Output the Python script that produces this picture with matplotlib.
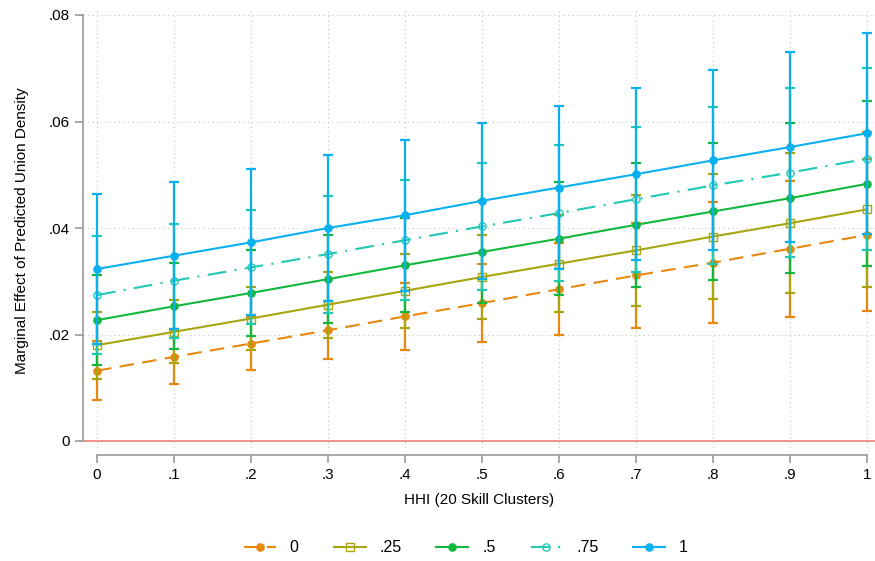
import numpy as np
import matplotlib.pyplot as plt

plt.rcParams['font.family'] = ['Liberation Sans', 'DejaVu Sans']

hhi = [0, .1, .2, .3, .4, .5, .6, .7, .8, .9, 1]
tick_labels = ["0", ".1", ".2", ".3", ".4", ".5", ".6", ".7", ".8", ".9", "1"]

# marginal effect at each union-density level
me_0 = [0.0132, 0.0158, 0.0183, 0.0208, 0.0234, 0.0259, 0.0285, 0.0311, 0.0335, 0.0361, 0.0387]
me_25 = [0.0180, 0.0205, 0.0230, 0.0256, 0.0282, 0.0308, 0.0333, 0.0358, 0.0384, 0.0409, 0.0435]
me_50 = [0.0227, 0.0253, 0.0278, 0.0304, 0.0330, 0.0355, 0.0380, 0.0406, 0.0431, 0.0456, 0.0483]
me_75 = [0.0274, 0.0301, 0.0326, 0.0351, 0.0377, 0.0403, 0.0428, 0.0454, 0.0480, 0.0504, 0.0530]
me_100 = [0.0323, 0.0348, 0.0373, 0.0400, 0.0424, 0.0451, 0.0476, 0.0501, 0.0527, 0.0552, 0.0578]

# half widths of the confidence intervals
ci_0 = [0.0055, 0.0051, 0.0049, 0.0054, 0.0063, 0.0073, 0.0086, 0.0099, 0.0113, 0.0128, 0.0143]
ci_25 = [0.0063, 0.0059, 0.0059, 0.0062, 0.0069, 0.0079, 0.0091, 0.0104, 0.0117, 0.0132, 0.0145]
ci_50 = [0.0084, 0.0081, 0.0080, 0.0082, 0.0088, 0.0096, 0.0106, 0.0117, 0.0129, 0.0141, 0.0155]
ci_75 = [0.0111, 0.0107, 0.0107, 0.0110, 0.0113, 0.0119, 0.0128, 0.0136, 0.0147, 0.0159, 0.0171]
ci_100 = [0.0140, 0.0138, 0.0137, 0.0138, 0.0142, 0.0146, 0.0153, 0.0161, 0.0169, 0.0179, 0.0189]

labels = ["0", ".25", ".5", ".75", "1"]
series = [me_0, me_25, me_50, me_75, me_100]
cis = [ci_0, ci_25, ci_50, ci_75, ci_100]
colors = ["#E8880E", "#A9A40F", "#12B83D", "#20C8B6", "#0AAFEF"]
markers = ["o", "s", "o", "o", "o"]
filled = [True, False, True, False, True]
styles = [(0, (7, 4)), "-", "-", (0, (9, 4, 1, 4)), "-"]

fig = plt.figure(figsize=(8.75, 5.61), dpi=100)
W, H = 875, 561
ax = fig.add_axes([83 / W, 1 - 452 / H, (875 - 83) / W, (452 - 10) / H])

ax.set_xlim(-14 / 770, 1 + 8 / 770)
ax.set_ylim(-11 / 5325, 0.08 + 5 / 5325)

grid = dict(color="#c4c4c4", linestyle=(0, (1, 3)), linewidth=0.8, zorder=0)
for x in hhi:
    ax.axvline(x, **grid)
for y in [.02, .04, .06, .08]:
    ax.axhline(y, **grid)
ax.axhline(0, color="#F08A80", linewidth=1.3, zorder=1)

for i in range(5):
    c = colors[i]
    ax.errorbar(hhi, series[i], yerr=cis[i], fmt="none", ecolor=c,
                elinewidth=1.6, capsize=3.6, capthick=1.6, zorder=2 + i)
    ax.plot(hhi, series[i], color=c, linestyle=styles[i], linewidth=1.5,
            marker=markers[i], markersize=5.2 if markers[i] == "o" else 6.3,
            markerfacecolor=c if filled[i] else "none",
            markeredgecolor=c, markeredgewidth=1, zorder=2 + i, label=labels[i])

for s in ["top", "right"]:
    ax.spines[s].set_visible(False)
ax.spines["left"].set_bounds(0, 0.08)
ax.spines["bottom"].set_bounds(0, 1)
ax.spines["bottom"].set_position(("outward", 2))
for s in ["left", "bottom"]:
    ax.spines[s].set_color("#999999")
    ax.spines[s].set_linewidth(1.2)

ax.set_xticks(hhi)
ax.set_xticklabels(tick_labels)
ax.set_yticks([0, .02, .04, .06, .08])
ax.set_yticklabels(["0", ".02", ".04", ".06", ".08"])
ax.tick_params(axis="both", colors="#999999", labelcolor="black", labelsize=11,
               length=6, width=1.2, direction="out")

ax.set_xlabel("HHI (20 Skill Clusters)", fontsize=11, labelpad=8)
ax.set_ylabel("Marginal Effect of Predicted Union Density", fontsize=11, labelpad=14)

leg = ax.legend(loc="center", ncol=5, frameon=False, fontsize=11.5,
                handlelength=2.0, handletextpad=0.85, columnspacing=2.2,
                markerscale=1.0)
leg.set_bbox_to_anchor((466 / W, 1 - 548 / H), transform=fig.transFigure)

fig.savefig("out.png", dpi=100)
